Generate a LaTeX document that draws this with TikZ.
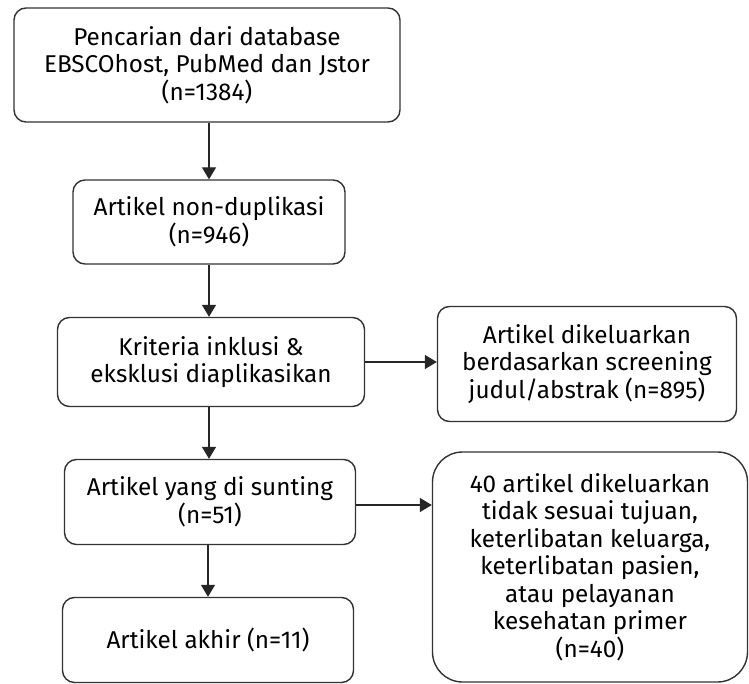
\documentclass[tikz,border=0pt]{standalone}
\usepackage{fontspec}
\setmainfont{Fira Sans}
\usetikzlibrary{arrows.meta}

\begin{document}
\begin{tikzpicture}[x=1pt, y=-1pt,
		box/.style = {draw = black!80, line width = 1.4pt, rounded corners = 12pt, align = center, inner sep = 0pt, font = \fontsize{24.3}{27.5}\selectfont},
		arr/.style = {draw = black!85, line width = 1.4pt, -{Triangle[length = 12pt, width = 14pt]}}]
		\useasboundingbox (0, 0) rectangle (749, 684);
		
		\node [box, minimum width = 386pt, minimum height = 114pt] (search) at (207, 65) {Pencarian dari database\\EBSCOhost, PubMed dan Jstor\\(n=1384)};
		\node [box, minimum width = 272pt, minimum height = 84pt] (nondup) at (209, 222) {Artikel non-duplikasi\\(n=946)};
		\node [box, minimum width = 307pt, minimum height = 89pt] (criteria) at (211, 362) {Kriteria inklusi \&\\eksklusi diaplikasikan};
		\node [box, minimum width = 291pt, minimum height = 85pt] (edited) at (210, 502) {Artikel yang di sunting\\(n=51)};
		\node [box, minimum width = 291pt, minimum height = 85pt] (final) at (208, 640) {Artikel akhir (n=11)};
		
		\node [box, minimum width = 299pt, minimum height = 115pt] (screened) at (587, 364) {Artikel dikeluarkan\\berdasarkan screening\\judul/abstrak (n=895)};
		\node [box, rounded corners = 30pt, minimum width = 315pt, minimum height = 230pt] (excluded) at (590, 567) {40 artikel dikeluarkan\\tidak sesuai tujuan,\\keterlibatan keluarga,\\keterlibatan pasien,\\atau pelayanan\\kesehatan primer\\(n=40)};
		
		\draw [arr] (search.south -| nondup) -- (nondup.north);
		\draw [arr] (nondup.south) -- (nondup |- criteria.north);
		\draw [arr] (criteria.south -| nondup) -- (nondup |- edited.north);
		\draw [arr] (edited.south -| final) -- (final.north);
		
		\draw [arr] (criteria.east) -- (criteria.east -| screened.west);
		\draw [arr] ([yshift = -3pt]edited.east) -- ([yshift = -3pt]edited.east -| excluded.west);
	\end{tikzpicture}
\end{document}
